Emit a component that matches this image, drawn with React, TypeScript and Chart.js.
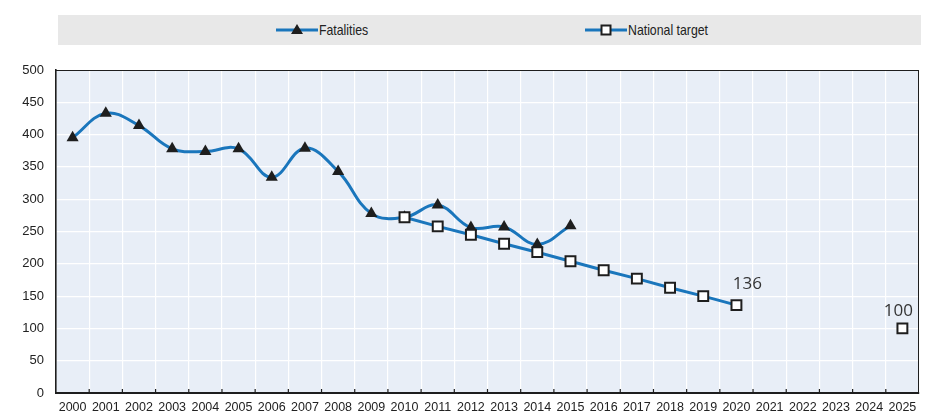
import React, { useEffect, useRef } from "react";
import { Chart, registerables } from "chart.js";

Chart.register(...registerables);

const years: string[] = [
  "2000", "2001", "2002", "2003", "2004", "2005", "2006", "2007", "2008",
  "2009", "2010", "2011", "2012", "2013", "2014", "2015", "2016", "2017",
  "2018", "2019", "2020", "2021", "2022", "2023", "2024", "2025",
];

const fatalities: (number | null)[] = [
  395, 433, 414, 378, 374, 378, 334, 379, 343, 278, 272, 291, 256, 257, 230, 259,
  null, null, null, null, null, null, null, null, null, null,
];

const nationalTarget: (number | null)[] = [
  null, null, null, null, null, null, null, null, null, null,
  272, 258, 245, 231, 218, 204, 190, 177, 163, 150, 136,
  null, null, null, null, 100,
];

const labelledYears: string[] = ["2020", "2025"];
const labelledText: string[] = ["136", "100"];

const yTicks: number[] = [0, 50, 100, 150, 200, 250, 300, 350, 400, 450, 500];

const BLUE = "#1a76bc";
const DARK = "#1e1e1e";
const SANS = "'Liberation Sans', Arial, sans-serif";

export default function App() {
  const ref = useRef<HTMLCanvasElement | null>(null);

  useEffect(() => {
    document.body.style.margin = "0";
    const canvas = ref.current;
    if (!canvas) return;

    const framePlugin = {
      id: "frame",
      beforeDraw(chart: any) {
        const { ctx, chartArea: a } = chart;
        ctx.save();
        ctx.fillStyle = "#e8eef7";
        ctx.fillRect(a.left, a.top, a.right - a.left, a.bottom - a.top);
        ctx.restore();
      },
      beforeDatasetsDraw(chart: any) {
        const { ctx, chartArea: a } = chart;
        const xs = chart.scales.x;
        ctx.save();
        ctx.strokeStyle = DARK;
        ctx.lineWidth = 1;
        ctx.beginPath();
        ctx.moveTo(a.left, a.top + 0.5);
        ctx.lineTo(a.right, a.top + 0.5);
        ctx.moveTo(a.right - 0.5, a.top);
        ctx.lineTo(a.right - 0.5, a.bottom);
        ctx.stroke();
        ctx.lineWidth = 1.2;
        ctx.beginPath();
        for (let i = 1; i < years.length; i++) {
          const x = (xs.getPixelForValue(i - 1) + xs.getPixelForValue(i)) / 2;
          ctx.moveTo(x, a.bottom);
          ctx.lineTo(x, a.bottom - 4);
        }
        ctx.stroke();
        ctx.restore();
      },
      afterDatasetsDraw(chart: any) {
        const { ctx } = chart;
        const meta = chart.getDatasetMeta(0);
        ctx.save();
        ctx.fillStyle = "#333333";
        ctx.font = "17px 'Open Sans', sans-serif";
        ctx.textAlign = "center";
        ctx.textBaseline = "bottom";
        labelledYears.forEach((yr, k) => {
          const idx = years.indexOf(yr);
          const el = meta.data[idx];
          if (!el) return;
          const dx = k === 0 ? 11 : -4;
          const dy = k === 0 ? 12 : 9;
          ctx.fillText(labelledText[k], el.x + dx, el.y - dy);
        });
        ctx.restore();
      },
    };

    const chart = new Chart(canvas, {
      type: "line",
      data: {
        labels: years,
        datasets: [
          {
            label: "National target",
            data: nationalTarget,
            borderColor: BLUE,
            backgroundColor: "#ffffff",
            borderWidth: 3,
            tension: 0,
            spanGaps: false,
            pointStyle: "rect",
            pointRadius: 7,
            pointBorderWidth: 2,
            pointBorderColor: DARK,
            pointBackgroundColor: "#ffffff",
            order: 0,
          },
          {
            label: "Fatalities",
            data: fatalities,
            borderColor: BLUE,
            backgroundColor: DARK,
            borderWidth: 3,
            tension: 0.4,
            cubicInterpolationMode: "default",
            pointStyle: "triangle",
            pointRadius: 7,
            pointBorderWidth: 0,
            pointBackgroundColor: DARK,
            order: 1,
          },
        ],
      },
      options: {
        animation: false,
        responsive: false,
        maintainAspectRatio: false,
        layout: { padding: { left: 0, right: 17, top: 70, bottom: 0 } },
        plugins: {
          legend: { display: false },
          tooltip: { enabled: false },
        },
        scales: {
          x: {
            type: "category",
            offset: true,
            grid: {
              color: "#ffffff",
              lineWidth: 1.2,
              offset: true,
              drawTicks: false,
            },
            border: { display: true, color: DARK, width: 2 },
            ticks: {
              color: "#222222",
              font: { family: SANS, size: 12.5 },
              padding: 7,
              maxRotation: 0,
              autoSkip: false,
            },
            afterFit(s: any) {
              s.height = 26;
            },
          },
          y: {
            min: 0,
            max: 500,
            afterBuildTicks(s: any) {
              s.ticks = yTicks.map((v) => ({ value: v }));
            },
            grid: { color: "#ffffff", lineWidth: 1.2, drawTicks: false },
            border: { display: true, color: DARK, width: 1.6 },
            ticks: {
              color: "#222222",
              font: { family: SANS, size: 13 },
              padding: 12,
            },
            afterFit(s: any) {
              s.width = 56;
            },
          },
        },
      },
      plugins: [framePlugin],
    });

    return () => chart.destroy();
  }, []);

  const legendText: React.CSSProperties = {
    fontFamily: SANS,
    fontSize: 15,
    color: "#222",
    lineHeight: "30px",
    position: "absolute",
    top: 0,
    whiteSpace: "nowrap",
    transform: "scaleX(0.82)",
    transformOrigin: "left center",
  };

  return (
    <div style={{ position: "absolute", left: 0, top: 0, width: 936, height: 419, background: "#fff" }}>
      <div
        style={{
          position: "absolute",
          left: 58,
          top: 15,
          width: 863,
          height: 30,
          background: "#e8e8e8",
        }}
      >
        <svg style={{ position: "absolute", left: 218, top: 8 }} width="42" height="14">
          <line x1="0" y1="7" x2="42" y2="7" stroke={BLUE} strokeWidth="3" />
          <polygon points="21,1 27,11 15,11" fill={DARK} />
        </svg>
        <span style={{ ...legendText, left: 261 }}>Fatalities</span>
        <svg style={{ position: "absolute", left: 527, top: 8 }} width="42" height="14">
          <line x1="0" y1="7" x2="42" y2="7" stroke={BLUE} strokeWidth="3" />
          <rect x="16.5" y="2.5" width="9" height="9" fill="#fff" stroke={DARK} strokeWidth="2" />
        </svg>
        <span style={{ ...legendText, left: 570 }}>National target</span>
      </div>
      <canvas
        ref={ref}
        width={936}
        height={419}
        style={{ position: "absolute", left: 0, top: 0, width: 936, height: 419 }}
      />
    </div>
  );
}
